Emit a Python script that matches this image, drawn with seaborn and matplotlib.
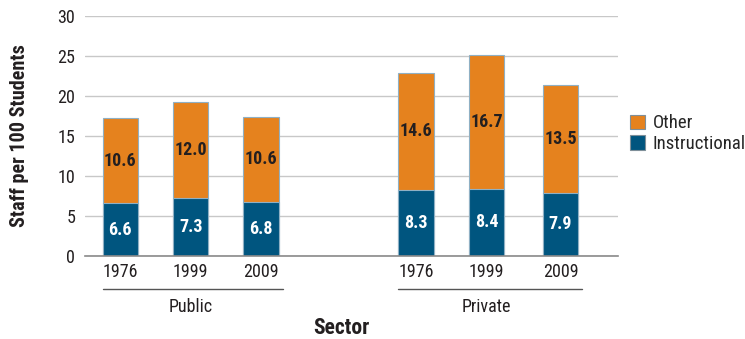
import numpy as np
import pandas as pd
import matplotlib
matplotlib.use("Agg")
import matplotlib.pyplot as plt
import matplotlib.transforms as mtransforms
from matplotlib.patches import Patch
from matplotlib import font_manager
import seaborn as sns

# ---- data ----
sectors = ["Public", "Public", "Public", "Private", "Private", "Private"]
years = ["1976", "1999", "2009", "1976", "1999", "2009"]
instructional = [6.6, 7.3, 6.8, 8.3, 8.4, 7.9]
other = [10.6, 12.0, 10.6, 14.6, 16.7, 13.5]
y_ticks = [0, 5, 10, 15, 20, 25, 30]

positions = [0.0, 1.0, 2.0, 4.2, 5.2, 6.25]
totals = [a + b for a, b in zip(instructional, other)]
df = pd.DataFrame({"pos": positions, "total": totals, "instr": instructional})

sns.set_theme(style="white")
names = {f.name for f in font_manager.fontManager.ttflist}
cands = ["Liberation Sans Narrow", "Roboto Condensed", "DejaVu Sans"]
fam = [c for c in cands if c in names] or ["DejaVu Sans"]
plt.rcParams["font.family"] = fam
plt.rcParams["font.stretch"] = "condensed"

ORANGE = "#E5821E"
BLUE = "#00557F"
EDGE = "#8fb0c4"
TXT = "#231f20"

fig = plt.figure(figsize=(7.45, 3.39), dpi=100)
ax = fig.add_axes([0.114, 0.245, 0.716, 0.708])

sns.barplot(data=df, x="pos", y="total", native_scale=True, width=0.5,
            color=ORANGE, saturation=1, edgecolor=EDGE, linewidth=0.8, ax=ax, zorder=3)
sns.barplot(data=df, x="pos", y="instr", native_scale=True, width=0.5,
            color=BLUE, saturation=1, edgecolor=EDGE, linewidth=0.8, ax=ax, zorder=3)

# value labels
c_tot, c_ins = ax.containers[0], ax.containers[1]
for bar, val, ins in zip(c_tot, other, instructional):
    x = bar.get_x() + bar.get_width() / 2
    ax.text(x, ins + val / 2, f"{val:.1f}", ha="center", va="center",
            fontsize=13, fontweight="bold", color=TXT, zorder=5)
for bar, val in zip(c_ins, instructional):
    x = bar.get_x() + bar.get_width() / 2
    ax.text(x, val / 2, f"{val:.1f}", ha="center", va="center",
            fontsize=13, fontweight="bold", color="white", zorder=5)

ax.set_ylim(0, 30)
ax.set_xlim(-0.5, 7.07)
ax.set_yticks(y_ticks)
ax.set_yticklabels([str(t) for t in y_ticks], fontsize=13, color=TXT)
ax.set_xticks(positions)
ax.set_xticklabels(years, fontsize=13, color=TXT)
ax.tick_params(axis="both", length=0, pad=5)
ax.tick_params(axis="y", pad=7)
ax.yaxis.grid(True, color="#c8c8c8", linewidth=1.0, zorder=0)
ax.set_axisbelow(True)
for s in ["top", "right", "left"]:
    ax.spines[s].set_visible(False)
ax.spines["bottom"].set_color("#8a8a8a")
ax.spines["bottom"].set_linewidth(1.2)
ax.spines["bottom"].set_zorder(4)

ax.set_xlabel("")
ax.set_ylabel("Staff per 100 Students", fontsize=14.5, fontweight="bold", color=TXT)
ax.yaxis.set_label_coords(-0.105, 0.5)

# group brackets
trans = mtransforms.blended_transform_factory(ax.transData, ax.transAxes)
for name, idx in [("Public", [0, 1, 2]), ("Private", [3, 4, 5])]:
    x0 = positions[idx[0]] - 0.25
    x1 = positions[idx[-1]] + 0.31
    ax.plot([x0, x1], [-0.1375, -0.1375], transform=trans, color="#555555",
            linewidth=1.0, clip_on=False)
    ax.text(positions[idx[1]], -0.2125, name, transform=trans, ha="center",
            va="center", fontsize=13, color=TXT)

ax.text(0.48, -0.30, "Sector", transform=ax.transAxes, ha="center", va="center",
        fontsize=15.5, fontweight="bold", color=TXT)

handles = [Patch(facecolor=ORANGE, edgecolor="#7f8f99", linewidth=0.8, label="Other"),
           Patch(facecolor=BLUE, edgecolor="#7f8f99", linewidth=0.8, label="Instructional")]
fig.legend(handles=handles, loc="center left", bbox_to_anchor=(0.845, 0.605),
           frameon=False, fontsize=13.5, handlelength=0.85, handleheight=0.85,
           handletextpad=0.4, labelspacing=0.15, borderaxespad=0, borderpad=0)

fig.savefig("out.png", dpi=100)
